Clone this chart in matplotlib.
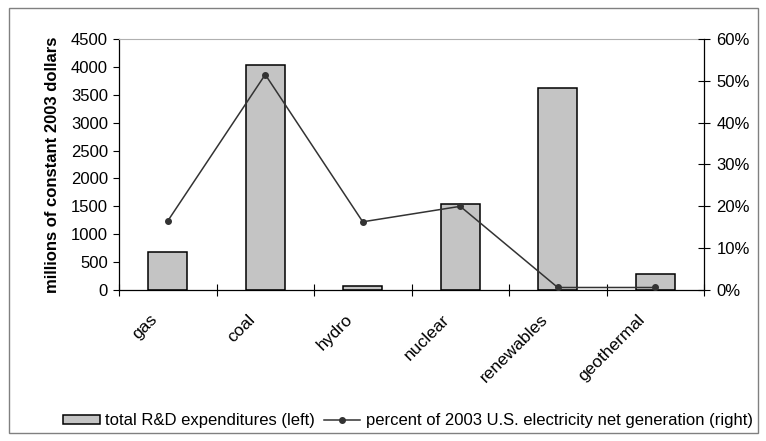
import matplotlib
matplotlib.use('Agg')
import matplotlib.pyplot as plt
from matplotlib.patches import Rectangle
from matplotlib.ticker import FuncFormatter
from matplotlib.transforms import ScaledTranslation
import numpy as np

plt.rcParams['font.family'] = ['Liberation Sans', 'DejaVu Sans']

# data
categories = ['gas', 'coal', 'hydro', 'nuclear', 'renewables', 'geothermal']
rd_spending = [680, 4030, 80, 1540, 3625, 290]       # millions of 2003 dollars
generation_pct = [16.5, 51.5, 16.3, 20.0, 0.6, 0.6]  # percent of 2003 net generation

fig = plt.figure(figsize=(7.66, 4.41), dpi=100)
ax = fig.add_axes([119 / 766, 1 - 290 / 441, 585 / 766, 251 / 441])

x = np.arange(len(categories))
bars = ax.bar(x, rd_spending, width=0.4, color='#c4c4c4', edgecolor='black',
              linewidth=1.1, label='total R&D expenditures (left)', zorder=2)

ax.set_xlim(-0.5, len(categories) - 0.5)
ax.set_ylim(0, 4500)
ax.set_yticks(np.arange(0, 4501, 500))
# ticks sit between categories, Excel style
ax.set_xticks(np.arange(-0.5, len(categories) + 0.5, 1))
ax.set_xticklabels([])
ax.tick_params(axis='x', which='major', direction='inout', length=8, width=0.8)
ax.tick_params(axis='y', direction='out', length=4, width=0.8, labelsize=12, pad=4)
ax.set_ylabel('millions of constant 2003 dollars', fontsize=12, fontweight='bold',
              labelpad=8)

# category labels: rotated, ending a bit left of each bar centre
lbl_offset = ScaledTranslation(-18 / 100, -22 / 100, fig.dpi_scale_trans)
for xi, name in zip(x, categories):
    ax.text(xi, 0, name, transform=ax.get_xaxis_transform() + lbl_offset,
            rotation=45, ha='right', va='top', rotation_mode='anchor', fontsize=12.5)

ax.spines['top'].set_color('#b0b0b0')
ax.spines['top'].set_linewidth(0.8)
ax.spines['right'].set_visible(False)
ax.spines['left'].set_linewidth(0.9)
ax.spines['bottom'].set_linewidth(0.9)

ax2 = ax.twinx()
line, = ax2.plot(x, generation_pct, color='#333333', linewidth=1.1, marker='o',
                 markersize=4, label='percent of 2003 U.S. electricity net generation (right)',
                 zorder=3)
ax2.set_ylim(0, 60)
ax2.set_yticks(np.arange(0, 61, 10))
ax2.yaxis.set_major_formatter(FuncFormatter(lambda v, p: f'{v:.0f}%'))
ax2.tick_params(axis='y', direction='inout', length=8, width=0.8, labelsize=12, pad=5)
for s in ['top', 'left', 'bottom']:
    ax2.spines[s].set_visible(False)
ax2.spines['right'].set_linewidth(0.9)

fig.legend([bars, line], [bars.get_label(), line.get_label()], loc='center',
           bbox_to_anchor=(408 / 766, 1 - 421 / 441), ncol=2, frameon=False,
           fontsize=12, handlelength=2.2, handleheight=0.45, handletextpad=0.35,
           columnspacing=0.5)

# outer chart border
fig.patches.append(Rectangle((9 / 766, 8 / 441), 749 / 766, 425 / 441,
                             transform=fig.transFigure, fill=False,
                             edgecolor='#808080', linewidth=1))

fig.savefig('out.png', dpi=100)
